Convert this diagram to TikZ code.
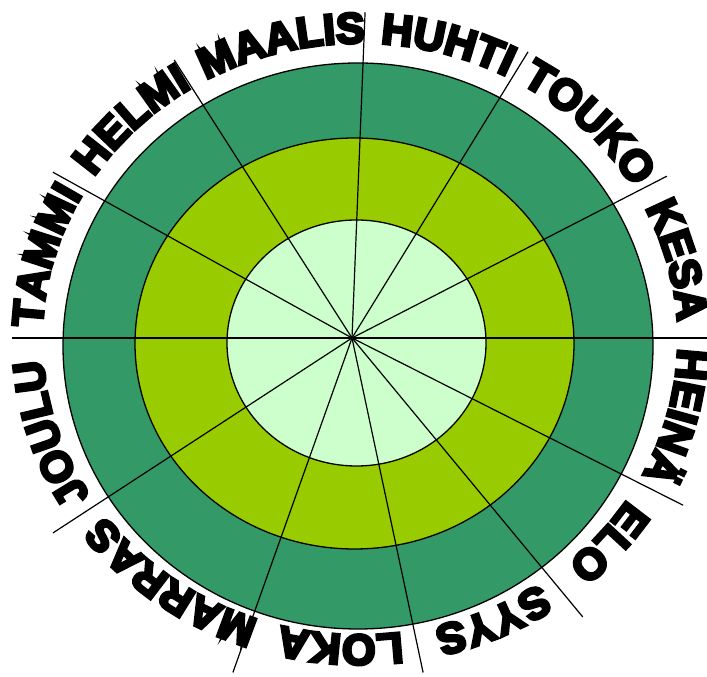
\documentclass[tikz,border=0pt]{standalone}
\usepackage{fontspec}
\usepackage{tikz}
\usetikzlibrary{decorations.text}
\newfontfamily\monthfont[FakeBold=7]{Liberation Sans Bold}
\definecolor{ringOuter}{HTML}{339966}
\definecolor{ringMiddle}{HTML}{99CC00}
\definecolor{ringInner}{HTML}{CCFFCC}

\begin{document}
\begin{tikzpicture}[
    x=1pt, y=1pt,
    ring/.style={draw=black, line width=1.3pt},
    spoke/.style={draw=black, line width=1.2pt},
    monthlabel/.style={decorate, decoration={text along path, text align=center,
      text={|\monthfont\fontsize{43}{43}\selectfont|#1}}}
  ]
  \useasboundingbox (0,0) rectangle (707,677);
  \coordinate (hub) at (352,339);
  \coordinate (textc) at (360,338);

  % rings
  \draw[ring, fill=ringOuter] (358,331) ellipse[x radius=295, y radius=283];
  \draw[ring, fill=ringMiddle] (354.5,333.5) ellipse[x radius=219.5, y radius=205.5];
  \draw[ring, fill=ringInner] (356.5,334) ellipse[x radius=129.5, y radius=123];

  % month borders
  \foreach \a/\r in {0/370, 27.2/354, 58.4/336, 87.7/326, 122.6/330, 151/342,
                     180/340, 213.1/357, 250.4/355, 282/342, 309.6/362, 333.2/371}
    \draw[spoke] (hub) -- ++(\a:\r);

  % month names, centred in their sector
  \foreach \m/\name in {164.5/TAMMI, 134.8/HELMI, 104.2/MAALIS, 74.2/HUHTI,
                        44.8/TOUKO, 14.6/KESA, -14.4/HEINÄ, -40.6/ELO,
                        -65.8/SYYS, -93.5/LOKA, -126.3/MARRAS, -162.3/JOULU}
    \path[monthlabel=\name] (textc) ++({\m+30}:318 and 296)
      arc[start angle=\m+30, end angle=\m-30, x radius=318, y radius=296];
\end{tikzpicture}
\end{document}
